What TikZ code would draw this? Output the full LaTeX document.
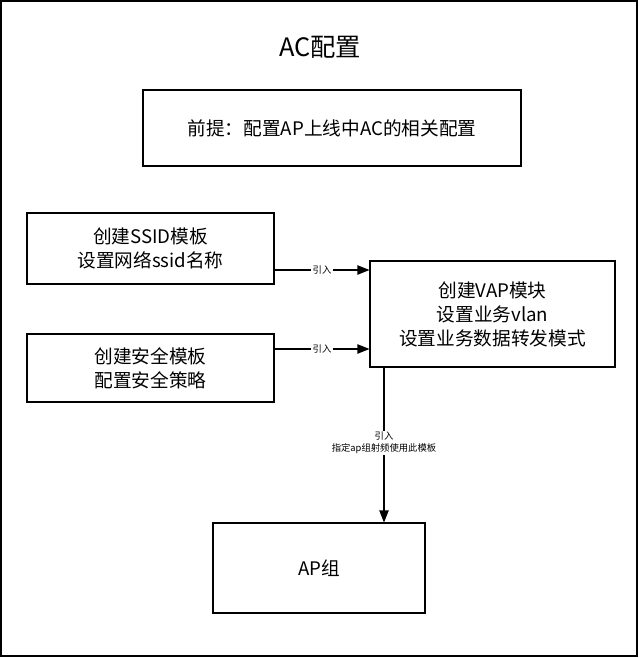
\documentclass[tikz,border=0pt]{standalone}
\usepackage{fontspec}
\setmainfont{Noto Sans CJK SC}
\usetikzlibrary{arrows.meta}

\begin{document}
\begin{tikzpicture}[x=0.75pt,y=0.75pt,yscale=-1,
    box/.style={draw,line width=0.8pt,inner sep=0pt,align=center,font=\fontsize{14}{18}\selectfont},
    link/.style={draw,line width=0.8pt,-{Triangle[length=9pt,width=7pt]}},
    tag/.style={font=\fontsize{7}{9}\selectfont,fill=white,inner sep=1pt,align=center}]
    %frame
    \draw [line width=0.8pt] (1,1) rectangle (637,656);
    \useasboundingbox (0,0) rectangle (639,658);

    % Text Node
    \node (title) at (320,47) {\fontsize{19}{22}\selectfont AC配置};
    % boxes
    \node [box,minimum width=283.5pt,minimum height=57pt] (pre) at (332,128) {前提：配置AP上线中AC的相关配置};
    \node [box,minimum width=185.25pt,minimum height=53.25pt] (ssid) at (150.5,248.5) {创建SSID模板\\设置网络ssid名称};
    \node [box,minimum width=185.25pt,minimum height=51pt] (sec) at (150.5,368) {创建安全模板\\配置安全策略};
    \node [box,minimum width=183.75pt,minimum height=79.5pt] (vap) at (492.5,314) {创建VAP模块\\设置业务vlan\\设置业务数据转发模式};
    \node [box,minimum width=159pt,minimum height=67.5pt] (ap) at (319,568) {AP组};

    % connectors
    \coordinate (v1) at (vap.west |- 0,270);
    \coordinate (v2) at (vap.west |- 0,349);
    \coordinate (vb) at (384,367);
    \draw [link] (ssid.east |- v1) -- node [tag] {引入} (v1);
    \draw [link] (sec.east |- v2) -- node [tag] {引入} (v2);
    \draw [link] (vb) -- node [tag,pos=0.49] {引入\\指定ap组射频使用此模板} (vb |- ap.north);
\end{tikzpicture}
\end{document}
